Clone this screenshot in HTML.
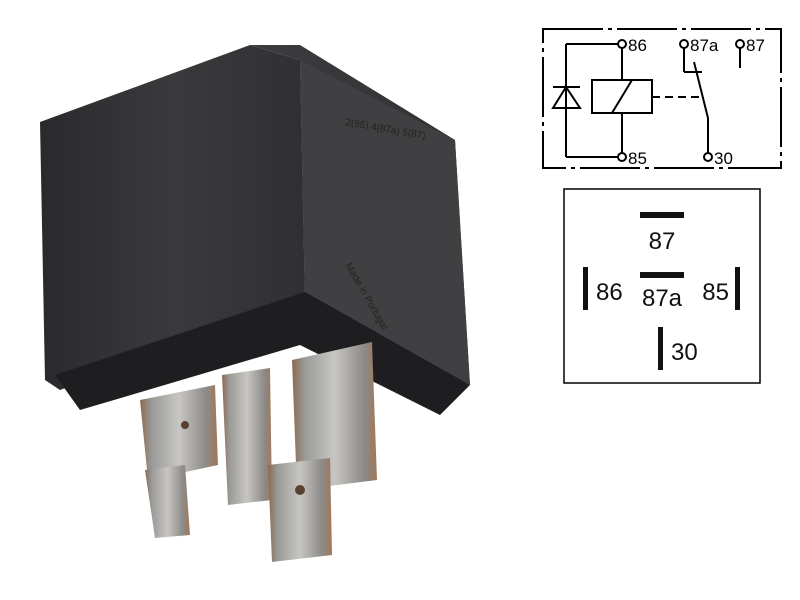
<!DOCTYPE html>
<html><head><meta charset="utf-8"><style>
html,body{margin:0;padding:0;background:#fff;}
body{width:800px;height:600px;position:relative;overflow:hidden;font-family:"Liberation Sans",Arial,sans-serif;}
</style></head><body>
<svg width="800" height="600" viewBox="0 0 800 600" style="position:absolute;left:0;top:0">
<defs>
<linearGradient id="fr" x1="0" y1="0" x2="1" y2="0">
<stop offset="0" stop-color="#2a2a2c"/><stop offset="0.5" stop-color="#3a3a3c"/><stop offset="1" stop-color="#303032"/></linearGradient>
<linearGradient id="rt" x1="0" y1="0" x2="1" y2="1">
<stop offset="0" stop-color="#3c3c3e"/><stop offset="1" stop-color="#2c2c2e"/></linearGradient>
<linearGradient id="pin" x1="0" y1="0" x2="1" y2="0">
<stop offset="0" stop-color="#8a6a50"/><stop offset="0.15" stop-color="#9a9a98"/><stop offset="0.5" stop-color="#c8c6c2"/><stop offset="0.85" stop-color="#8c8a88"/><stop offset="1" stop-color="#a07858"/></linearGradient>
</defs>
<!-- relay body -->
<polygon points="40,122 250,45 300,60 305,300 60,390 45,380" fill="url(#fr)"/>
<polygon points="250,45 300,45 455,140 470,385 305,300 300,60" fill="url(#rt)"/>
<polygon points="300,60 455,140 470,385 305,300" fill="#404042"/>
<polygon points="55,375 305,292 470,385 440,415 300,345 80,410" fill="#1e1e20"/>
<!-- pins -->
<polygon points="140,400 215,385 218,465 148,480" fill="url(#pin)"/>
<polygon points="145,470 185,465 190,535 155,538" fill="url(#pin)"/>
<polygon points="222,375 270,368 272,500 228,505" fill="url(#pin)"/>
<polygon points="292,360 372,342 377,480 297,490" fill="url(#pin)"/>
<polygon points="268,465 330,458 332,555 272,562" fill="url(#pin)"/>
<circle cx="185" cy="425" r="4" fill="#5a4030"/>
<circle cx="300" cy="490" r="5" fill="#5a4030"/>
<g font-size="10" fill="#222" font-family="Liberation Sans,sans-serif">
<text x="345" y="125" transform="rotate(10 345 125)">2(85) 4(87a) 5(87)</text>
<text x="345" y="265" transform="rotate(60 345 265)">Made in Portugal</text>
</g>
<!-- schematic -->
<g stroke="#000" stroke-width="2" fill="none">
<rect x="543" y="29" width="238" height="139" stroke-dasharray="60,5,4,5"/>
<line x1="566" y1="44" x2="618" y2="44"/>
<line x1="566" y1="44" x2="566" y2="157"/>
<line x1="566" y1="157" x2="618" y2="157"/>
<line x1="622" y1="48" x2="622" y2="80"/>
<line x1="622" y1="113" x2="622" y2="153"/>
<rect x="592" y="80" width="60" height="33"/>
<line x1="612" y1="113" x2="632" y2="80"/>
<line x1="553" y1="87" x2="580" y2="87"/>
<polygon points="566,87 553,108 580,108"/>
<line x1="652" y1="97" x2="703" y2="97" stroke-dasharray="8,5"/>
<line x1="684" y1="48" x2="684" y2="72"/>
<line x1="684" y1="72" x2="702" y2="72"/>
<line x1="694" y1="62" x2="708" y2="118"/>
<line x1="708" y1="118" x2="708" y2="153"/>
<line x1="740" y1="48" x2="740" y2="68"/>
<circle cx="622" cy="44" r="4" fill="#fff"/>
<circle cx="622" cy="157" r="4" fill="#fff"/>
<circle cx="684" cy="44" r="4" fill="#fff"/>
<circle cx="740" cy="44" r="4" fill="#fff"/>
<circle cx="708" cy="157" r="4" fill="#fff"/>
</g>
<g font-size="17" fill="#000" font-family="Liberation Sans,sans-serif">
<text x="628" y="51">86</text>
<text x="628" y="164">85</text>
<text x="690" y="51">87a</text>
<text x="746" y="51">87</text>
<text x="714" y="164">30</text>
</g>
<!-- pinout -->
<rect x="564" y="189" width="196" height="194" fill="none" stroke="#000" stroke-width="1.5"/>
<g fill="#111">
<rect x="640" y="212" width="44" height="6"/>
<rect x="640" y="272" width="44" height="6"/>
<rect x="583" y="267" width="5" height="43"/>
<rect x="735" y="267" width="5" height="43"/>
<rect x="658" y="327" width="5" height="43"/>
</g>
<g font-size="24" fill="#111" font-family="Liberation Sans,sans-serif">
<text x="662" y="249" text-anchor="middle">87</text>
<text x="596" y="300">86</text>
<text x="662" y="306" text-anchor="middle">87a</text>
<text x="729" y="300" text-anchor="end">85</text>
<text x="671" y="360">30</text>
</g>
</svg>
</body></html>
